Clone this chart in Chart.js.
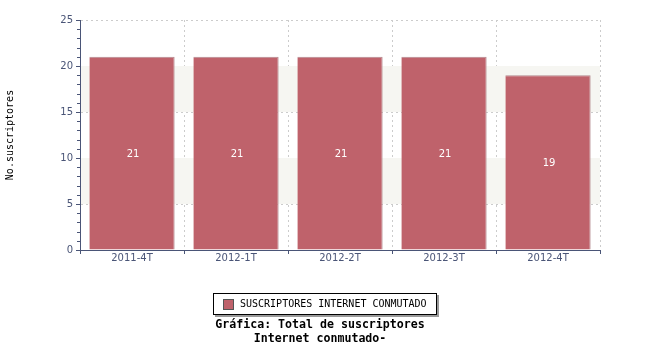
<!DOCTYPE html>
<html>
<head>
<meta charset="utf-8">
<script src="https://cdn.jsdelivr.net/npm/chart.js@4.4.0/dist/chart.umd.min.js"></script>
<style>
  body { margin: 0; background: #fff; }
  #wrap { position: relative; width: 650px; height: 350px; }
  #legend {
    position: absolute; left: 213px; top: 293px; width: 222px; height: 20px;
    border: 1px solid #000; background: #fff; box-shadow: 2px 2px 0 #999;
    font: 10px "DejaVu Sans Mono", monospace; color: #000;
  }
  #legend .sw {
    position: absolute; left: 9px; top: 5px; width: 9px; height: 9px;
    background: #bf626b; border: 1px solid #555;
  }
  #legend .tx { position: absolute; left: 26px; top: 4px; white-space: nowrap; }
  #title {
    position: absolute; left: 0; width: 640px; top: 317px; text-align: center;
    font: bold 11.6px "DejaVu Sans Mono", monospace; line-height: 14px; color: #000;
  }
</style>
</head>
<body>
<div id="wrap">
  <canvas id="chart" width="650" height="350"></canvas>
  <div id="legend"><span class="sw"></span><span class="tx">SUSCRIPTORES INTERNET CONMUTADO</span></div>
  <div id="title">Gráfica: Total de suscriptores<br>Internet conmutado-</div>
</div>
<script>
const periodos = ['2011-4T', '2012-1T', '2012-2T', '2012-3T', '2012-4T'];
const suscriptores = [21, 21, 21, 21, 19];
const yTicks = [0, 5, 10, 15, 20, 25];
const bandas = [[5, 10], [15, 20]];

const ejeColor = '#4a5577';

// franjas grises, marcas menores y valores dentro de las barras
const extras = {
  id: 'extras',
  beforeDatasetsDraw(chart) {
    const { ctx, chartArea, scales: { y } } = chart;
    ctx.save();
    ctx.fillStyle = '#f6f6f2';
    bandas.forEach(([a, b]) => {
      const top = y.getPixelForValue(b);
      const bot = y.getPixelForValue(a);
      ctx.fillRect(chartArea.left + 1, top, chartArea.right - chartArea.left - 1, bot - top);
    });
    ctx.restore();
  },
  afterDatasetsDraw(chart) {
    const { ctx, chartArea, scales: { y } } = chart;
    ctx.save();
    ctx.strokeStyle = ejeColor;
    ctx.lineWidth = 1;
    for (let v = 0; v <= 25; v++) {
      if (v % 5 === 0) continue;
      const py = Math.round(y.getPixelForValue(v)) + 0.5;
      ctx.beginPath();
      ctx.moveTo(chartArea.left - 3, py);
      ctx.lineTo(chartArea.left, py);
      ctx.stroke();
    }
    const meta = chart.getDatasetMeta(0);
    ctx.fillStyle = '#fff';
    ctx.font = '10px "DejaVu Sans"';
    ctx.textAlign = 'center';
    ctx.textBaseline = 'middle';
    meta.data.forEach((bar, i) => {
      const mid = y.getPixelForValue(suscriptores[i] / 2) + 1;
      ctx.fillText(String(suscriptores[i]), bar.x + 1, mid);
    });
    ctx.restore();
  }
};

new Chart(document.getElementById('chart').getContext('2d'), {
  type: 'bar',
  data: {
    labels: periodos,
    datasets: [{
      label: 'SUSCRIPTORES INTERNET CONMUTADO',
      data: suscriptores,
      backgroundColor: '#bf626b',
      borderColor: '#b3898e',
      borderWidth: { top: 1, right: 1, left: 0, bottom: 0 },
      borderSkipped: 'start',
      categoryPercentage: 1,
      barPercentage: 0.82,
    }],
  },
  options: {
    responsive: false,
    animation: false,
    layout: { padding: { left: 0, top: 20, right: 50, bottom: 80 } },
    plugins: {
      legend: { display: false },
      tooltip: { enabled: false },
    },
    scales: {
      x: {
        afterFit: s => { s.height = 20; },
        grid: {
          offset: true,
          color: '#cccccc',
          tickColor: ejeColor,
          tickLength: 4,
          tickBorderDash: [],
        },
        border: { display: true, color: ejeColor, width: 1, dash: [2, 3] },
        ticks: { color: ejeColor, font: { family: 'DejaVu Sans', size: 10 }, padding: -2 },
      },
      y: {
        min: 0,
        max: 25,
        afterFit: s => { s.width = 80; },
        afterBuildTicks: s => { s.ticks = yTicks.map(v => ({ value: v })); },
        grid: {
          color: '#cccccc',
          tickColor: ejeColor,
          tickLength: 4,
          tickBorderDash: [],
        },
        border: { display: true, color: ejeColor, width: 1, dash: [2, 3] },
        ticks: { color: ejeColor, font: { family: 'DejaVu Sans', size: 10 }, padding: 3 },
        title: {
          display: true,
          text: 'No.suscriptores',
          color: '#000',
          font: { family: 'DejaVu Sans Mono', size: 10 },
          padding: { top: 4, bottom: 0 },
        },
      },
    },
  },
  plugins: [extras],
});
</script>
</body>
</html>
